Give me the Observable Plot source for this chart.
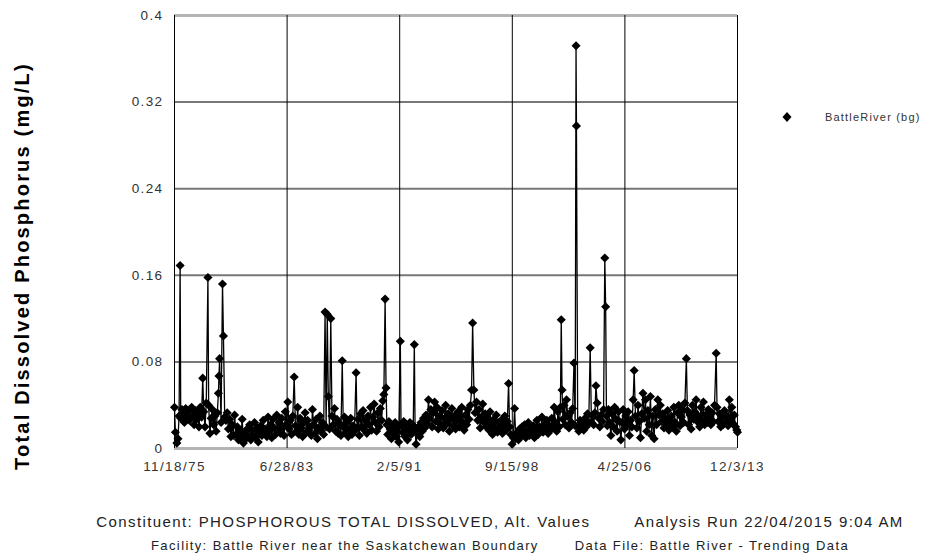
<!DOCTYPE html>
<html>
<head>
<meta charset="utf-8">
<script src="https://cdn.jsdelivr.net/npm/d3@7"></script>
<script src="https://cdn.jsdelivr.net/npm/@observablehq/plot@0.6"></script>
<style>
  html, body { margin: 0; padding: 0; background: #fff; }
  #wrap { position: relative; width: 925px; height: 558px; font-family: "Liberation Sans", Arial, sans-serif; }
  #legend { position: absolute; left: 781px; top: 109px; font-size: 11px; letter-spacing: 1.2px; color: #333; display: flex; align-items: center; white-space: nowrap; }
  #legend span { margin-left: 32px; }
  #footer { position: absolute; left: 75px; top: 510px; width: 850px; color: #222; white-space: pre; }
  #footer .line { display: flex; justify-content: center; line-height: 24px; }
  #footer .l1 { font-size: 15px; letter-spacing: 1.4px; gap: 44px; }
  #footer .l2 { font-size: 13px; letter-spacing: 1.4px; gap: 36px; }
  #chart svg text { letter-spacing: 1.4px; }
  #chart svg .ytitle text { letter-spacing: 2.2px; }
</style>
</head>
<body>
<div id="wrap">
  <div id="chart"></div>
  <div id="legend"><svg width="12" height="16"><path d="M6,3 L10.5,8 L6,13 L1.5,8 Z" fill="#000"/></svg><span>BattleRiver (bg)</span></div>
  <div id="footer"></div>
</div>
<script>
const seriesName = "BattleRiver (bg)";
const yTitle = "Total Dissolved Phosphorus (mg/L)";
const footerLines = [
  ["Constituent: PHOSPHOROUS TOTAL DISSOLVED, Alt. Values", "Analysis Run 22/04/2015 9:04 AM"],
  ["Facility: Battle River near the Saskatchewan Boundary", "Data File: Battle River - Trending Data"]
];
const yTicks = [0, 0.08, 0.16, 0.24, 0.32, 0.4];
const yTickLabels = ["0", "0.08", "0.16", "0.24", "0.32", "0.4"];
const xTicks = ["1975-11-18", "1983-06-28", "1991-02-05", "1998-09-15", "2006-04-25", "2013-12-03"];
const xTickLabels = ["11/18/75", "6/28/83", "2/5/91", "9/15/98", "4/25/06", "12/3/13"];

// [sample date, total dissolved phosphorus mg/L]
const samples = [
["1975-11-18",0.038],["1975-12-10",0.015],
["1976-01-15",0.005],["1976-02-12",0.009],["1976-03-10",0.030],["1976-04-05",0.169],["1976-04-20",0.028],["1976-05-20",0.036],["1976-06-20",0.031],["1976-07-20",0.024],["1976-08-20",0.037],["1976-09-20",0.029],["1976-10-20",0.034],["1976-11-20",0.026],
["1977-01-15",0.038],["1977-02-15",0.030],["1977-03-15",0.022],["1977-04-15",0.035],["1977-05-15",0.027],["1977-06-15",0.033],["1977-07-15",0.020],["1977-08-15",0.038],["1977-09-15",0.029],["1977-10-15",0.065],["1977-11-10",0.034],["1977-12-10",0.020],
["1978-01-10",0.042],["1978-02-20",0.158],["1978-03-10",0.040],["1978-04-10",0.014],["1978-05-10",0.028],["1978-06-10",0.036],["1978-07-10",0.022],["1978-08-10",0.030],["1978-09-10",0.016],["1978-10-10",0.033],["1978-11-05",0.051],["1978-11-20",0.067],["1978-12-05",0.083],
["1979-01-10",0.024],["1979-02-15",0.152],["1979-03-10",0.104],["1979-04-10",0.029],["1979-05-10",0.026],["1979-06-10",0.033],["1979-07-10",0.018],["1979-08-10",0.027],["1979-09-10",0.011],["1979-10-10",0.022],["1979-11-10",0.012],["1979-12-10",0.031],
["1980-01-15",0.013],["1980-02-15",0.020],["1980-03-15",0.008],["1980-04-15",0.016],["1980-05-15",0.012],["1980-06-15",0.027],["1980-07-15",0.005],["1980-08-15",0.014],["1980-09-15",0.009],["1980-10-15",0.018],["1980-11-15",0.011],["1980-12-15",0.022],
["1981-01-15",0.008],["1981-02-15",0.017],["1981-03-15",0.012],["1981-04-15",0.024],["1981-05-15",0.010],["1981-06-15",0.019],["1981-07-15",0.006],["1981-08-15",0.015],["1981-09-15",0.021],["1981-10-15",0.012],["1981-11-15",0.026],["1981-12-15",0.014],
["1982-01-15",0.018],["1982-02-15",0.011],["1982-03-15",0.029],["1982-04-15",0.016],["1982-05-15",0.022],["1982-06-15",0.010],["1982-07-15",0.027],["1982-08-15",0.019],["1982-09-15",0.013],["1982-10-15",0.031],["1982-11-15",0.017],["1982-12-15",0.024],
["1983-01-15",0.014],["1983-02-15",0.028],["1983-03-15",0.020],["1983-04-15",0.012],["1983-05-15",0.034],["1983-06-15",0.022],["1983-07-15",0.043],["1983-08-15",0.018],["1983-09-15",0.026],["1983-10-15",0.013],["1983-11-15",0.030],["1983-12-20",0.066],
["1984-01-20",0.021],["1984-02-15",0.016],["1984-03-15",0.038],["1984-04-15",0.013],["1984-05-15",0.028],["1984-06-15",0.019],["1984-07-15",0.011],["1984-08-15",0.024],["1984-09-15",0.033],["1984-10-15",0.015],["1984-11-15",0.026],["1984-12-15",0.017],
["1985-01-15",0.020],["1985-02-15",0.012],["1985-03-15",0.036],["1985-04-15",0.022],["1985-05-15",0.014],["1985-06-15",0.027],["1985-07-15",0.009],["1985-08-15",0.019],["1985-09-15",0.030],["1985-10-15",0.016],["1985-11-15",0.024],["1985-12-15",0.013],
["1986-01-20",0.126],["1986-02-15",0.020],["1986-03-15",0.124],["1986-04-10",0.048],["1986-05-10",0.018],["1986-06-10",0.120],["1986-07-10",0.030],["1986-08-10",0.022],["1986-09-10",0.037],["1986-10-10",0.016],["1986-11-10",0.027],["1986-12-10",0.014],
["1987-01-15",0.023],["1987-02-15",0.012],["1987-03-20",0.081],["1987-04-15",0.020],["1987-05-15",0.029],["1987-06-15",0.015],["1987-07-15",0.024],["1987-08-15",0.011],["1987-09-15",0.018],["1987-10-15",0.028],["1987-11-15",0.013],["1987-12-15",0.021],
["1988-01-15",0.016],["1988-02-25",0.070],["1988-03-20",0.019],["1988-04-15",0.027],["1988-05-15",0.012],["1988-06-15",0.032],["1988-07-15",0.020],["1988-08-15",0.035],["1988-09-15",0.017],["1988-10-15",0.026],["1988-11-15",0.014],["1988-12-15",0.030],
["1989-01-15",0.022],["1989-02-15",0.038],["1989-03-15",0.017],["1989-04-15",0.029],["1989-05-15",0.041],["1989-06-15",0.024],["1989-07-15",0.016],["1989-08-15",0.033],["1989-09-15",0.020],["1989-10-15",0.037],["1989-11-15",0.026],["1989-12-15",0.044],
["1990-01-10",0.050],["1990-02-10",0.138],["1990-03-05",0.056],["1990-03-25",0.022],["1990-04-15",0.013],["1990-05-15",0.025],["1990-06-15",0.018],["1990-07-15",0.009],["1990-08-15",0.021],["1990-09-15",0.014],["1990-10-15",0.024],["1990-11-15",0.011],["1990-12-15",0.019],
["1991-01-10",0.006],["1991-02-20",0.099],["1991-03-10",0.022],["1991-04-15",0.015],["1991-05-15",0.025],["1991-06-15",0.011],["1991-07-15",0.020],["1991-08-15",0.008],["1991-09-15",0.017],["1991-10-15",0.024],["1991-11-15",0.013],["1991-12-15",0.022],
["1992-01-05",0.021],["1992-02-01",0.096],["1992-02-20",0.016],["1992-03-15",0.004],["1992-04-15",0.014],["1992-05-15",0.020],["1992-06-15",0.011],["1992-07-15",0.024],["1992-08-15",0.016],["1992-09-15",0.028],["1992-10-15",0.019],["1992-11-15",0.031],["1992-12-15",0.023],
["1993-01-15",0.045],["1993-02-15",0.028],["1993-03-15",0.036],["1993-04-15",0.020],["1993-05-15",0.033],["1993-06-15",0.043],["1993-07-15",0.025],["1993-08-15",0.038],["1993-09-15",0.018],["1993-10-15",0.030],["1993-11-15",0.022],["1993-12-15",0.035],
["1994-01-15",0.019],["1994-02-15",0.028],["1994-03-15",0.040],["1994-04-15",0.023],["1994-05-15",0.032],["1994-06-15",0.016],["1994-07-15",0.027],["1994-08-15",0.037],["1994-09-15",0.021],["1994-10-15",0.030],["1994-11-15",0.018],["1994-12-15",0.026],
["1995-01-15",0.034],["1995-02-15",0.020],["1995-03-15",0.029],["1995-04-15",0.038],["1995-05-15",0.024],["1995-06-15",0.017],["1995-07-15",0.031],["1995-08-15",0.022],["1995-09-15",0.036],["1995-10-15",0.027],["1995-11-15",0.040],["1995-12-15",0.054],
["1996-01-10",0.116],["1996-02-10",0.054],["1996-03-10",0.033],["1996-04-15",0.043],["1996-05-15",0.026],["1996-06-15",0.036],["1996-07-15",0.019],["1996-08-15",0.029],["1996-09-15",0.041],["1996-10-15",0.024],["1996-11-15",0.032],["1996-12-15",0.020],
["1997-01-15",0.028],["1997-02-15",0.017],["1997-03-15",0.034],["1997-04-15",0.022],["1997-05-15",0.013],["1997-06-15",0.027],["1997-07-15",0.019],["1997-08-15",0.031],["1997-09-15",0.015],["1997-10-15",0.024],["1997-11-15",0.018],["1997-12-15",0.026],
["1998-01-15",0.014],["1998-02-15",0.022],["1998-03-15",0.030],["1998-04-15",0.017],["1998-05-15",0.025],["1998-06-15",0.060],["1998-07-10",0.020],["1998-08-10",0.013],["1998-09-10",0.004],["1998-10-10",0.010],["1998-11-10",0.037],["1998-12-10",0.009],
["1999-01-15",0.015],["1999-02-15",0.008],["1999-03-15",0.018],["1999-04-15",0.011],["1999-05-15",0.020],["1999-06-15",0.013],["1999-07-15",0.022],["1999-08-15",0.010],["1999-09-15",0.016],["1999-10-15",0.024],["1999-11-15",0.012],["1999-12-15",0.019],
["2000-01-15",0.014],["2000-02-15",0.021],["2000-03-15",0.010],["2000-04-15",0.018],["2000-05-15",0.026],["2000-06-15",0.013],["2000-07-15",0.020],["2000-08-15",0.016],["2000-09-15",0.029],["2000-10-15",0.015],["2000-11-15",0.022],["2000-12-15",0.018],
["2001-01-15",0.026],["2001-02-15",0.014],["2001-03-15",0.021],["2001-04-15",0.017],["2001-05-15",0.028],["2001-06-15",0.019],["2001-07-15",0.038],["2001-08-15",0.024],["2001-09-15",0.016],["2001-10-15",0.034],["2001-11-15",0.020],["2001-12-15",0.038],
["2002-01-05",0.119],["2002-01-25",0.054],["2002-02-15",0.027],["2002-03-15",0.040],["2002-04-15",0.022],["2002-05-15",0.045],["2002-06-15",0.030],["2002-07-15",0.019],["2002-08-15",0.033],["2002-09-15",0.024],["2002-10-15",0.037],["2002-11-15",0.079],["2002-12-15",0.021],
["2003-01-05",0.372],["2003-01-15",0.298],["2003-02-15",0.021],["2003-03-15",0.016],["2003-04-15",0.026],["2003-05-15",0.019],["2003-06-15",0.023],["2003-07-15",0.017],["2003-08-15",0.028],["2003-09-15",0.020],["2003-10-15",0.032],["2003-11-15",0.024],["2003-12-20",0.093],
["2004-01-20",0.024],["2004-02-15",0.030],["2004-03-15",0.022],["2004-04-15",0.033],["2004-05-10",0.058],["2004-06-10",0.042],["2004-07-15",0.028],["2004-08-15",0.020],["2004-09-15",0.031],["2004-10-15",0.025],["2004-11-15",0.036],["2004-12-15",0.176],
["2005-01-05",0.131],["2005-01-25",0.030],["2005-02-15",0.021],["2005-03-15",0.036],["2005-04-15",0.024],["2005-05-15",0.012],["2005-06-15",0.032],["2005-07-15",0.020],["2005-08-15",0.038],["2005-09-15",0.027],["2005-10-15",0.016],["2005-11-15",0.034],["2005-12-15",0.025],
["2006-01-15",0.008],["2006-02-15",0.024],["2006-03-15",0.036],["2006-04-15",0.018],["2006-05-15",0.030],["2006-06-15",0.022],["2006-07-15",0.034],["2006-08-15",0.012],["2006-09-15",0.026],["2006-10-15",0.020],["2006-11-15",0.045],["2006-12-10",0.072],
["2007-01-10",0.030],["2007-02-15",0.019],["2007-03-15",0.040],["2007-04-15",0.025],["2007-05-15",0.010],["2007-06-15",0.032],["2007-07-15",0.051],["2007-08-15",0.028],["2007-09-15",0.045],["2007-10-15",0.016],["2007-11-15",0.035],["2007-12-15",0.022],
["2008-01-15",0.048],["2008-02-15",0.012],["2008-03-15",0.030],["2008-04-15",0.009],["2008-05-15",0.036],["2008-06-15",0.022],["2008-07-15",0.045],["2008-08-15",0.031],["2008-09-15",0.040],["2008-10-15",0.025],["2008-11-15",0.032],["2008-12-15",0.019],
["2009-01-15",0.028],["2009-02-15",0.022],["2009-03-15",0.035],["2009-04-15",0.017],["2009-05-15",0.026],["2009-06-15",0.030],["2009-07-15",0.020],["2009-08-15",0.038],["2009-09-15",0.024],["2009-10-15",0.016],["2009-11-15",0.033],["2009-12-15",0.040],
["2010-01-15",0.021],["2010-02-15",0.029],["2010-03-15",0.036],["2010-04-15",0.024],["2010-05-15",0.042],["2010-06-20",0.083],["2010-07-15",0.035],["2010-08-15",0.022],["2010-09-15",0.031],["2010-10-15",0.018],["2010-11-15",0.040],["2010-12-15",0.027],
["2011-01-15",0.034],["2011-02-15",0.045],["2011-03-15",0.025],["2011-04-15",0.030],["2011-05-15",0.020],["2011-06-15",0.038],["2011-07-15",0.026],["2011-08-15",0.043],["2011-09-15",0.022],["2011-10-15",0.031],["2011-11-15",0.024],["2011-12-15",0.036],
["2012-01-15",0.028],["2012-02-15",0.022],["2012-03-15",0.033],["2012-04-15",0.025],["2012-05-15",0.040],["2012-06-25",0.088],["2012-07-15",0.038],["2012-08-15",0.025],["2012-09-15",0.032],["2012-10-15",0.020],["2012-11-15",0.029],["2012-12-15",0.022],
["2013-01-15",0.035],["2013-02-15",0.024],["2013-03-15",0.030],["2013-04-15",0.021],["2013-05-15",0.045],["2013-06-15",0.027],["2013-07-15",0.038],["2013-08-15",0.023],["2013-09-15",0.031],["2013-10-15",0.020],["2013-11-15",0.017],["2013-12-03",0.015]
];

const data = samples.map(([d, v]) => ({date: new Date(d + "T00:00:00Z"), value: v}));
const xTickDates = xTicks.map(d => new Date(d + "T00:00:00Z"));
const xLabelOf = new Map(xTickDates.map((d, i) => [+d, xTickLabels[i]]));
const yLabelOf = new Map(yTicks.map((t, i) => [t, yTickLabels[i]]));
const innerY = yTicks.filter(t => t !== yTicks[0] && t !== yTicks[yTicks.length - 1]);
const edgeY = [yTicks[0], yTicks[yTicks.length - 1]];

const chart = Plot.plot({
  width: 925,
  height: 480,
  marginLeft: 174,
  marginRight: 188,
  marginTop: 15,
  marginBottom: 32,
  style: {fontFamily: '"Liberation Sans", Arial, sans-serif', fontSize: "13.5px", color: "#333", background: "#fff", overflow: "visible"},
  x: {type: "utc", domain: [xTickDates[0], xTickDates[xTickDates.length - 1]]},
  y: {domain: [yTicks[0], yTicks[yTicks.length - 1]]},
  marks: [
    Plot.ruleY(innerY, {stroke: "#777", strokeWidth: 2}),
    Plot.ruleY(edgeY, {stroke: "#b4b4b4", strokeWidth: 3}),
    Plot.ruleX(xTickDates, {stroke: "#000", strokeWidth: 1}),
    Plot.axisX({ticks: xTickDates, tickSize: 0, tickPadding: 13, tickFormat: d => xLabelOf.get(+d), label: null, fontSize: 13.5}),
    Plot.axisY({ticks: yTicks, tickSize: 0, tickPadding: 11, tickFormat: t => yLabelOf.get(t), label: null, fontSize: 13.5}),
    Plot.text([yTitle], {frameAnchor: "left", textAnchor: "middle", rotate: -90, dx: -152, dy: 34, fontSize: 20, fontWeight: "bold", fill: "#000", className: "ytitle"}),
    Plot.line(data, {x: "date", y: "value", stroke: "#000", strokeWidth: 1.3}),
    Plot.dot(data, {x: "date", y: "value", symbol: "diamond2", r: 4.1, fill: "#000", stroke: "none"})
  ]
});
document.getElementById("chart").appendChild(chart);
document.querySelector("#legend span").textContent = seriesName;
const footer = document.getElementById("footer");
footerLines.forEach((parts, i) => {
  const line = document.createElement("div");
  line.className = "line l" + (i + 1);
  parts.forEach(p => { const s = document.createElement("span"); s.textContent = p; line.appendChild(s); });
  footer.appendChild(line);
});
</script>
</body>
</html>
